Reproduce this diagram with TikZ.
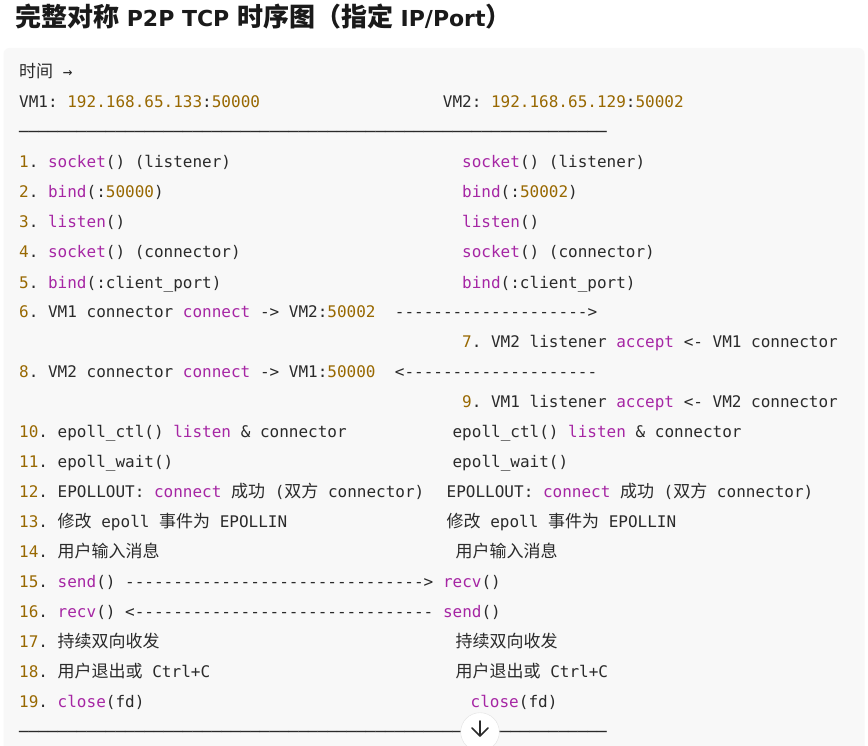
\documentclass[tikz,border=0pt]{standalone}
\usepackage{fontspec}
\setmonofont{DejaVu Sans Mono}
\newfontfamily\cjkfont[Scale=1.0625]{Noto Sans CJK SC}
\newfontfamily\titlecjk{Noto Sans CJK SC}
\newfontfamily\titlelat{DejaVu Sans Bold}
\usetikzlibrary{calc}
\definecolor{codebg}{HTML}{F8F8F8}
\definecolor{numc}{HTML}{986801}
\definecolor{kwc}{HTML}{A626A4}
\definecolor{txtc}{HTML}{2A2A2A}
\definecolor{titlec}{HTML}{1A1A1A}
\newcommand\cnum[1]{\textcolor{numc}{#1}}
\newcommand\ckw[1]{\textcolor{kwc}{#1}}
\newcommand\czh[1]{{\cjkfont #1}}
\newcommand\tzh[1]{{\titlecjk\bfseries\fontsize{26pt}{26pt}\selectfont #1}}
\newcommand\tlat[1]{{\titlelat\fontsize{22pt}{22pt}\selectfont #1}}
\tikzset{
  codeline/.style={anchor=base west, inner sep=0pt, text=txtc,
    font=\ttfamily\fontsize{16pt}{16pt}\selectfont},
  ruleline/.style={codeline},
  titletext/.style={anchor=base west, inner sep=0pt, text=titlec},
  scrollbtn/.style={circle, draw=black!12, fill=white, minimum size=38.6pt, inner sep=0pt},
}
\begin{document}
\begin{tikzpicture}[x=1pt,y=-1pt]
\useasboundingbox (0,0) rectangle (868,746);
\fill[white] (0,0) rectangle (868,746);
\fill[codebg, rounded corners=6pt] (3.5,48) rectangle (864.5,780);

\node[titletext] (title) at (15,27) {\tzh{完整对称}\tlat{ P2P TCP }\tzh{时序图（指定}\tlat{ IP/Port}\tzh{）}};

% header
\node[codeline] (time) at (19,78) {\czh{时间} →};
\node[codeline] (vm1) at (19,108) {VM1: \cnum{192.168.65.133}:\cnum{50000}};
\node[codeline] (vm2) at (442.7,108) {VM2: \cnum{192.168.65.129}:\cnum{50002}};
\node[ruleline] (ruletop) at (19,138) {─────────────────────────────────────────────────────────────};

% steps
\node[codeline] (l1) at (19,168) {\cnum{1}. \ckw{socket}() (listener)};
\node[codeline] (r1) at (462,168) {\ckw{socket}() (listener)};
\node[codeline] (l2) at (19,198) {\cnum{2}. \ckw{bind}(:\cnum{50000})};
\node[codeline] (r2) at (462,198) {\ckw{bind}(:\cnum{50002})};
\node[codeline] (l3) at (19,228) {\cnum{3}. \ckw{listen}()};
\node[codeline] (r3) at (462,228) {\ckw{listen}()};
\node[codeline] (l4) at (19,258) {\cnum{4}. \ckw{socket}() (connector)};
\node[codeline] (r4) at (462,258) {\ckw{socket}() (connector)};
\node[codeline] (l5) at (19,288) {\cnum{5}. \ckw{bind}(:client\_port)};
\node[codeline] (r5) at (462,288) {\ckw{bind}(:client\_port)};
\node[codeline] (l6) at (19,317.5) {\cnum{6}. VM1 connector \ckw{connect} -> VM2:\cnum{50002}~~-------------------->};
\node[codeline] (r7) at (462,347.5) {\cnum{7}. VM2 listener \ckw{accept} <- VM1 connector};
\node[codeline] (l8) at (19,377.5) {\cnum{8}. VM2 connector \ckw{connect} -> VM1:\cnum{50000}~~<--------------------};
\node[codeline] (r9) at (462,407.5) {\cnum{9}. VM1 listener \ckw{accept} <- VM2 connector};
\node[codeline] (l10) at (19,437.5) {\cnum{10}. epoll\_ctl() \ckw{listen} \& connector};
\node[codeline] (r10) at (452.4,437.5) {epoll\_ctl() \ckw{listen} \& connector};
\node[codeline] (l11) at (19,467.5) {\cnum{11}. epoll\_wait()};
\node[codeline] (r11) at (452.4,467.5) {epoll\_wait()};
\node[codeline] (l12) at (19,497.5) {\cnum{12}. EPOLLOUT: \ckw{connect} \czh{成功} (\czh{双方} connector)};
\node[codeline] (r12) at (446.5,497.5) {EPOLLOUT: \ckw{connect} \czh{成功} (\czh{双方} connector)};
\node[codeline] (l13) at (19,527) {\cnum{13}. \czh{修改} epoll \czh{事件为} EPOLLIN};
\node[codeline] (r13) at (446.5,527) {\czh{修改} epoll \czh{事件为} EPOLLIN};
\node[codeline] (l14) at (19,557) {\cnum{14}. \czh{用户输入消息}};
\node[codeline] (r14) at (455.5,557) {\czh{用户输入消息}};
\node[codeline] (l15) at (19,587) {\cnum{15}. \ckw{send}() ------------------------------->~\ckw{recv}()};
\node[codeline] (l16) at (19,617) {\cnum{16}. \ckw{recv}() <-------------------------------~\ckw{send}()};
\node[codeline] (l17) at (19,647) {\cnum{17}. \czh{持续双向收发}};
\node[codeline] (r17) at (455.5,647) {\czh{持续双向收发}};
\node[codeline] (l18) at (19,677) {\cnum{18}. \czh{用户退出或} Ctrl+C};
\node[codeline] (r18) at (455.5,677) {\czh{用户退出或} Ctrl+C};
\node[codeline] (l19) at (19,707) {\cnum{19}. \ckw{close}(fd)};
\node[codeline] (r19) at (470.5,707) {\ckw{close}(fd)};
\node[ruleline] (rulebot) at (19,737) {─────────────────────────────────────────────────────────────};

% scroll button
\node[scrollbtn] (down) at (480,732) {};
\draw[line width=1.7pt, txtc, line cap=round, line join=round]
  ($(down.center)+(0,-11)$) -- ($(down.center)+(0,4)$)
  ($(down.center)+(-8,-4)$) -- ($(down.center)+(0,4)$) -- ($(down.center)+(8,-4)$);
\end{tikzpicture}
\end{document}
